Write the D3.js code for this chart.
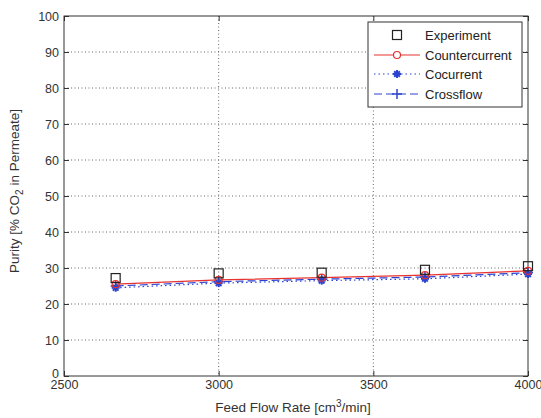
<!DOCTYPE html>
<html>
<head>
<meta charset="utf-8">
<script src="https://cdn.jsdelivr.net/npm/d3@7"></script>
<style>
body { margin: 0; background: #fff; }
text { font-family: "Liberation Sans", Arial, sans-serif; }
</style>
</head>
<body>
<script>
// data
var flow = [2667, 3000, 3333, 3667, 4000];
var experiment = [27.2, 28.5, 28.7, 29.5, 30.5];
var countercurrent = [25.5, 26.7, 27.3, 28.0, 29.2];
var cocurrent = [24.5, 25.8, 26.5, 27.0, 28.3];
var crossflow = [25.0, 26.2, 26.9, 27.5, 28.7];
var xTicks = [2500, 3000, 3500, 4000];
var yTicks = [0, 10, 20, 30, 40, 50, 60, 70, 80, 90, 100];

var W = 541, H = 418;
var pLeft = 64, pRight = 528, pTop = 16, pBottom = 376;

var svg = d3.select("body").append("svg")
  .attr("width", W)
  .attr("height", H);

var x = d3.scaleLinear().domain([2500, 4000]).range([pLeft, pRight]);
var y = d3.scaleLinear().domain([0, 100]).range([pBottom, pTop]);

// grid
svg.selectAll(".gx").data(xTicks.slice(1, -1)).enter().append("line")
  .attr("x1", x).attr("x2", x).attr("y1", pTop).attr("y2", pBottom)
  .style("stroke", "#555").style("stroke-width", 0.9).style("stroke-dasharray", "1,2.5");
svg.selectAll(".gy").data(yTicks.slice(1, -1)).enter().append("line")
  .attr("x1", pLeft).attr("x2", pRight).attr("y1", y).attr("y2", y)
  .style("stroke", "#555").style("stroke-width", 0.9).style("stroke-dasharray", "1,2.5");

// axes (ticks inward, like matlab)
var ax = svg.append("g").attr("transform", "translate(0," + pBottom + ")")
  .call(d3.axisBottom(x).tickValues(xTicks).tickSize(-5).tickPadding(4).tickFormat(d3.format("d")));
var axTop = svg.append("g").attr("transform", "translate(0," + pTop + ")")
  .call(d3.axisTop(x).tickValues(xTicks).tickSize(-5).tickFormat(""));
var ay = svg.append("g").attr("transform", "translate(" + pLeft + ",0)")
  .call(d3.axisLeft(y).tickValues(yTicks).tickSize(-5).tickPadding(5));
var ayR = svg.append("g").attr("transform", "translate(" + pRight + ",0)")
  .call(d3.axisRight(y).tickValues(yTicks).tickSize(-5).tickFormat(""));

[ax, axTop, ay, ayR].forEach(function(g){
  g.select(".domain").remove();
  g.selectAll("line").style("stroke", "#333");
  g.selectAll("text").style("font-size", "12.5px").style("fill", "#333")
    .style("font-family", "Liberation Sans, Arial, sans-serif");
});
// the 0 sits a little above the corner, as in the original
ay.selectAll(".tick text").filter(function(d){ return d === 0; }).attr("dy", "0.1em");

svg.append("rect")
  .attr("x", pLeft).attr("y", pTop)
  .attr("width", pRight - pLeft).attr("height", pBottom - pTop)
  .style("fill", "none").style("stroke", "#333").style("stroke-width", 1);

// series
var red = "#e8322f", blue = "#2a44d0";
function pts(vals){ return vals.map(function(v, i){ return [flow[i], v]; }); }
var line = d3.line().x(function(d){ return x(d[0]); }).y(function(d){ return y(d[1]); });

svg.append("path").datum(pts(cocurrent)).attr("d", line)
  .style("fill", "none").style("stroke", blue).style("stroke-width", 1.2).style("stroke-dasharray", "1.5,3");
svg.append("path").datum(pts(crossflow)).attr("d", line)
  .style("fill", "none").style("stroke", blue).style("stroke-width", 1.2).style("stroke-dasharray", "8,4");
svg.append("path").datum(pts(countercurrent)).attr("d", line)
  .style("fill", "none").style("stroke", red).style("stroke-width", 1.2);

function drawStar(g, cx, cy, s){
  [0, 45, 90, 135].forEach(function(a){
    var rad = a * Math.PI / 180;
    g.append("line")
      .attr("x1", cx - s * Math.cos(rad)).attr("y1", cy - s * Math.sin(rad))
      .attr("x2", cx + s * Math.cos(rad)).attr("y2", cy + s * Math.sin(rad))
      .style("stroke", blue).style("stroke-width", 2);
  });
}
function drawPlus(g, cx, cy, s){
  g.append("line").attr("x1", cx - s).attr("x2", cx + s).attr("y1", cy).attr("y2", cy)
    .style("stroke", blue).style("stroke-width", 1.5);
  g.append("line").attr("x1", cx).attr("x2", cx).attr("y1", cy - s).attr("y2", cy + s)
    .style("stroke", blue).style("stroke-width", 1.5);
}

var gm = svg.append("g");
pts(cocurrent).forEach(function(d){ drawStar(gm, x(d[0]), y(d[1]), 4); });
pts(crossflow).forEach(function(d){ drawPlus(gm, x(d[0]), y(d[1]), 5); });
svg.selectAll(".cc").data(pts(countercurrent)).enter().append("circle")
  .attr("cx", function(d){ return x(d[0]); }).attr("cy", function(d){ return y(d[1]); })
  .attr("r", 3.5).style("fill", "none").style("stroke", red).style("stroke-width", 1.2);
svg.selectAll(".ex").data(pts(experiment)).enter().append("rect")
  .attr("x", function(d){ return x(d[0]) - 4.5; }).attr("y", function(d){ return y(d[1]) - 4.5; })
  .attr("width", 9).attr("height", 9)
  .style("fill", "none").style("stroke", "#222").style("stroke-width", 1.2);

// legend
var lg = svg.append("g");
lg.append("rect").attr("x", 368).attr("y", 22).attr("width", 154).attr("height", 85)
  .style("fill", "#fff").style("stroke", "#333").style("stroke-width", 1);
var names = ["Experiment", "Countercurrent", "Cocurrent", "Crossflow"];
var rowY = [35, 55, 74, 94];
names.forEach(function(n, i){
  var yy = rowY[i], x0 = 374, x1 = 420, xm = 397;
  if (i == 0) {
    lg.append("rect").attr("x", xm - 4.5).attr("y", yy - 4.5).attr("width", 9).attr("height", 9)
      .style("fill", "none").style("stroke", "#222").style("stroke-width", 1.2);
  } else if (i == 1) {
    lg.append("line").attr("x1", x0).attr("x2", x1).attr("y1", yy).attr("y2", yy)
      .style("stroke", red).style("stroke-width", 1.2);
    lg.append("circle").attr("cx", xm).attr("cy", yy).attr("r", 3.5)
      .style("fill", "#fff").style("stroke", red).style("stroke-width", 1.2);
  } else if (i == 2) {
    lg.append("line").attr("x1", x0).attr("x2", x1).attr("y1", yy).attr("y2", yy)
      .style("stroke", blue).style("stroke-width", 1.2).style("stroke-dasharray", "1.5,3");
    drawStar(lg, xm, yy, 4);
  } else {
    lg.append("line").attr("x1", x0).attr("x2", x1).attr("y1", yy).attr("y2", yy)
      .style("stroke", blue).style("stroke-width", 1.2).style("stroke-dasharray", "8,4");
    drawPlus(lg, xm, yy, 5);
  }
  lg.append("text").attr("x", 425).attr("y", yy + 4.5).text(n)
    .style("font-size", "13px").style("fill", "#222");
});

// axis labels
var xl = svg.append("text").attr("x", 293).attr("y", 412).attr("text-anchor", "middle")
  .style("font-size", "13.5px").style("fill", "#333");
xl.append("tspan").text("Feed Flow Rate [cm");
xl.append("tspan").attr("dy", -5).style("font-size", "10px").text("3");
xl.append("tspan").attr("dy", 5).text("/min]");

var yl = svg.append("text").attr("transform", "translate(19,191) rotate(-90)")
  .attr("text-anchor", "middle").style("font-size", "13.5px").style("fill", "#333");
yl.append("tspan").text("Purity [% CO");
yl.append("tspan").attr("dy", 4).style("font-size", "10px").text("2");
yl.append("tspan").attr("dy", -4).text(" in Permeate]");
</script>
</body>
</html>
